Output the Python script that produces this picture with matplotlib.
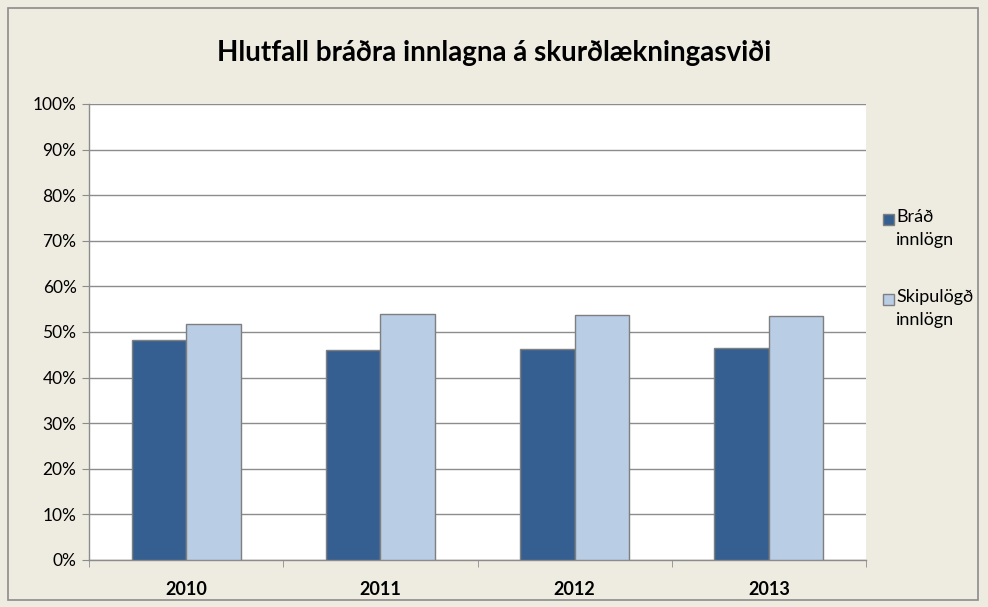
import matplotlib.pyplot as plt
import numpy as np
from matplotlib.patches import Rectangle

years = ['2010', '2011', '2012', '2013']
brad = [48.2, 46.0, 46.3, 46.6]
skipulogd = [51.8, 54.0, 53.7, 53.4]
labels = ['Bráð\ninnlögn', 'Skipulögð\ninnlögn']

plt.rcParams['font.family'] = ['Lato', 'DejaVu Sans']

bg = '#EEEBE0'
dark = '#365F91'
light = '#B9CDE5'
edge = '#7F7F7F'

fig = plt.figure(figsize=(9.88, 6.07), dpi=100, facecolor=bg)
fig.patches.append(Rectangle((8 / 988, 7 / 607), 970 / 988, 592 / 607, transform=fig.transFigure,
                             fill=False, edgecolor='#8C8C8C', linewidth=1.2))

ax = fig.add_axes([89 / 988, 1 - 560 / 607, 777 / 988, 456 / 607])
ax.set_facecolor('white')

x = np.arange(len(years))
w = 0.28
b1 = ax.bar(x - w / 2, brad, w, color=dark, edgecolor=edge, linewidth=1, zorder=3)
b2 = ax.bar(x + w / 2, skipulogd, w, color=light, edgecolor=edge, linewidth=1, zorder=3)

ax.set_xlim(-0.5, len(years) - 0.5)
ax.set_ylim(0, 100)
ax.set_yticks(range(0, 101, 10))
ax.set_yticklabels([f'{v}%' for v in range(0, 101, 10)], fontsize=12.5)
ax.yaxis.grid(True, color='#8C8C8C', linewidth=1, zorder=0)

ax.set_xticks(x)
ax.set_xticklabels(years, fontsize=13, fontweight='bold')
ax.set_xticks(np.arange(-0.5, len(years)), minor=True)
ax.tick_params(axis='x', which='major', length=0, pad=15)
ax.tick_params(axis='x', which='minor', length=5, color='#8C8C8C', direction='out')
ax.tick_params(axis='y', length=5, color='#8C8C8C', direction='out', pad=4)

for s in ['top', 'right']:
    ax.spines[s].set_visible(False)
for s in ['left', 'bottom']:
    ax.spines[s].set_color('#8C8C8C')
    ax.spines[s].set_linewidth(1)

fig.text(0.5, 1 - 53 / 607, 'Hlutfall bráðra innlagna á skurðlækningasviði',
         ha='center', va='center', fontsize=20, fontweight='bold')

# legend drawn by hand so the first line sits next to the square
for i, (bars, lab) in enumerate(zip([b1, b2], labels)):
    ytop = 214 + i * 80
    fig.patches.append(Rectangle((883 / 988, 1 - (ytop + 11) / 607), 11 / 988, 11 / 607,
                                 transform=fig.transFigure, facecolor=bars[0].get_facecolor(),
                                 edgecolor=edge, linewidth=1))
    fig.text(896 / 988, 1 - (ytop - 5) / 607, lab, ha='left', va='top', fontsize=13,
             linespacing=1.55)

plt.savefig('out.png', dpi=100, facecolor=bg)
